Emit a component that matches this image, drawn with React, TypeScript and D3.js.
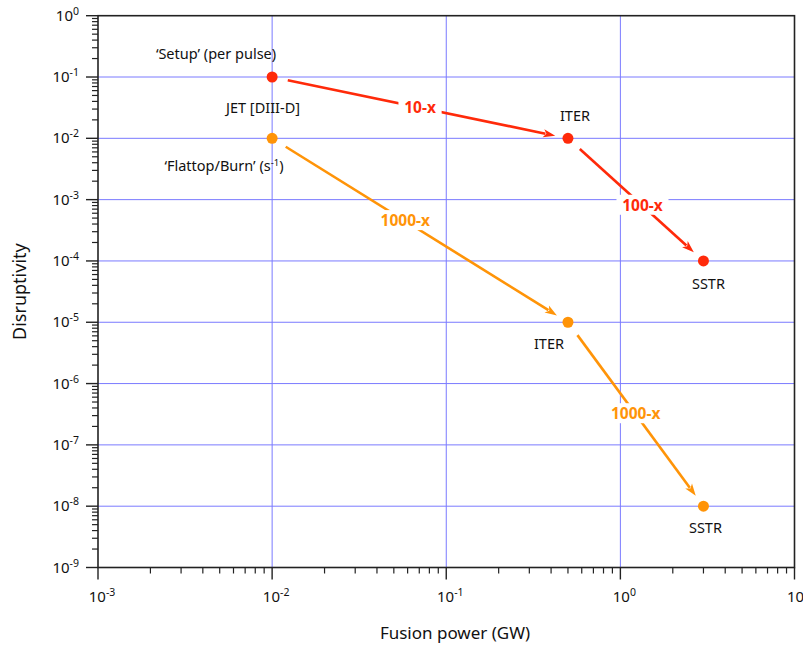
import React from "react";
import * as d3 from "d3";

const W = 803;
const H = 645;
const M = { left: 98, right: 794.5, top: 15.7, bottom: 567.5 };

const xDecades = [-3, -2, -1, 0, 1];
const yDecades = [0, -1, -2, -3, -4, -5, -6, -7, -8, -9];
const xGridDecades = [-2, -1, 0];
const yGridDecades = [-1, -2, -3, -4, -5, -6, -7, -8];

// series: Setup (per pulse) and Flattop/Burn (s^-1)
const setupPower = [0.01, 0.5, 3];
const setupDisr = [0.1, 0.01, 1e-4];
const burnPower = [0.01, 0.5, 3];
const burnDisr = [0.01, 1e-5, 1e-8];

const setupArrowLabels = ["10-x", "100-x"];
const setupArrowT = [0.5, 0.55];
const burnArrowLabels = ["1000-x", "1000-x"];
const burnArrowT = [0.45, 0.5];

const RED = "#ff2a0a";
const ORANGE = "#ff9408";
const GRID = "#7a7aff";
const FONT = "'Noto Sans', 'Open Sans', sans-serif";

const x = d3.scaleLog().domain([1e-3, 10]).range([M.left, M.right]);
const y = d3.scaleLog().domain([1, 1e-9]).range([M.top, M.bottom]);

function Arrow({ x1, y1, x2, y2, color, label, t }: any) {
  const dx = x2 - x1;
  const dy = y2 - y1;
  const len = Math.sqrt(dx * dx + dy * dy);
  const ux = dx / len;
  const uy = dy / len;
  const sx = x1 + ux * 16;
  const sy = y1 + uy * 16;
  const ex = x2 - ux * 13;
  const ey = y2 - uy * 13;
  const headL = 12;
  const headW = 4.2;
  const bx = ex - ux * headL;
  const by = ey - uy * headL;
  const px = -uy;
  const py = ux;
  const lx = x1 + dx * t;
  const ly = y1 + dy * t;
  const lw = label.length * 8.8 + 8;
  return (
    <g>
      <line x1={sx} y1={sy} x2={bx + ux * 2} y2={by + uy * 2} stroke={color} strokeWidth={2.6} />
      <path
        d={`M${ex},${ey} L${bx + px * headW},${by + py * headW} L${bx + ux * 3},${by + uy * 3} L${bx - px * headW},${by - py * headW} Z`}
        fill={color}
      />
      <rect x={lx - lw / 2} y={ly - 11} width={lw} height={20} fill="white" />
      <text x={lx} y={ly + 5} textAnchor="middle" fontFamily={FONT} fontWeight="bold" fontSize={15.5} fill={color}>
        {label}
      </text>
    </g>
  );
}

function Pow({ e, px, py, anchor }: any) {
  return (
    <text x={px} y={py} textAnchor={anchor} fontFamily={FONT} fontSize={15} fill="#111">
      10<tspan dy={-6} fontSize={10.5}>{e}</tspan>
    </text>
  );
}

export default function App() {
  const minorX: number[] = [];
  for (let d = -3; d < 1; d++) for (let k = 2; k <= 9; k++) minorX.push(k * Math.pow(10, d));
  const minorY: number[] = [];
  for (let d = -9; d < 0; d++) for (let k = 2; k <= 9; k++) minorY.push(k * Math.pow(10, d));

  const series = [
    { p: setupPower, v: setupDisr, c: RED, labels: setupArrowLabels, ts: setupArrowT },
    { p: burnPower, v: burnDisr, c: ORANGE, labels: burnArrowLabels, ts: burnArrowT },
  ];

  return (
    <svg width={W} height={H} style={{ position: "absolute", left: 0, top: 0, background: "white" }}>
      {/* grid */}
      {xGridDecades.map((d) => (
        <line key={"gx" + d} x1={x(Math.pow(10, d))} x2={x(Math.pow(10, d))} y1={M.top} y2={M.bottom} stroke={GRID} strokeWidth={1} />
      ))}
      {yGridDecades.map((d) => (
        <line key={"gy" + d} x1={M.left} x2={M.right} y1={y(Math.pow(10, d))} y2={y(Math.pow(10, d))} stroke={GRID} strokeWidth={1} />
      ))}
      {/* frame */}
      <rect x={M.left} y={M.top} width={M.right - M.left} height={M.bottom - M.top} fill="none" stroke="#222" strokeWidth={1.6} />
      {/* x ticks */}
      {xDecades.map((d) => (
        <line key={"tx" + d} x1={x(Math.pow(10, d))} x2={x(Math.pow(10, d))} y1={M.bottom} y2={M.bottom + 12} stroke="#222" strokeWidth={1.4} />
      ))}
      {minorX.map((v, i) => (
        <line key={"mx" + i} x1={x(v)} x2={x(v)} y1={M.bottom} y2={M.bottom + 6} stroke="#222" strokeWidth={1.2} />
      ))}
      {/* y ticks */}
      {yDecades.map((d) => (
        <line key={"ty" + d} x1={M.left - 12} x2={M.left} y1={y(Math.pow(10, d))} y2={y(Math.pow(10, d))} stroke="#222" strokeWidth={1.4} />
      ))}
      {minorY.map((v, i) => (
        <line key={"my" + i} x1={M.left - 6} x2={M.left} y1={y(v)} y2={y(v)} stroke="#222" strokeWidth={1.2} />
      ))}
      {/* tick labels */}
      {xDecades.map((d) => (
        <Pow key={"lx" + d} e={String(d)} px={x(Math.pow(10, d)) + 4} py={M.bottom + 34} anchor="middle" />
      ))}
      {yDecades.map((d) => (
        <Pow key={"ly" + d} e={String(d)} px={79} py={y(Math.pow(10, d)) + 5} anchor="end" />
      ))}
      {/* axis titles */}
      <text x={455} y={639} textAnchor="middle" fontFamily={FONT} fontSize={17} fill="#111">
        Fusion power (GW)
      </text>
      <text transform={`translate(26,${(M.top + M.bottom) / 2}) rotate(-90)`} textAnchor="middle" fontFamily={FONT} fontSize={18} fill="#111">
        Disruptivity
      </text>
      {/* arrows */}
      {series.map((s, si) =>
        s.labels.map((lab, i) => (
          <Arrow
            key={"a" + si + i}
            x1={x(s.p[i])}
            y1={y(s.v[i])}
            x2={x(s.p[i + 1])}
            y2={y(s.v[i + 1])}
            color={s.c}
            label={lab}
            t={s.ts[i]}
          />
        ))
      )}
      {/* points */}
      {series.map((s, si) =>
        s.p.map((p, i) => <circle key={"c" + si + i} cx={x(p)} cy={y(s.v[i])} r={5.5} fill={s.c} />)
      )}
      {/* annotations */}
      <g fontFamily={FONT} fontSize={14.5} fill="#111">
        <text x={216} y={59} textAnchor="middle">‘Setup’ (per pulse)</text>
        <text x={300} y={113} textAnchor="end">JET [DIII-D]</text>
        <text x={224} y={171} textAnchor="middle">
          ‘Flattop/Burn’ (s<tspan dy={-5} fontSize={9.5}>-1</tspan><tspan dy={5}>)</tspan>
        </text>
        <text x={x(setupPower[1]) + 7} y={y(setupDisr[1]) - 17} textAnchor="middle">ITER</text>
        <text x={x(setupPower[2]) + 5} y={y(setupDisr[2]) + 28} textAnchor="middle">SSTR</text>
        <text x={x(burnPower[1]) - 19} y={y(burnDisr[1]) + 27} textAnchor="middle">ITER</text>
        <text x={x(burnPower[2]) + 2} y={y(burnDisr[2]) + 27} textAnchor="middle">SSTR</text>
      </g>
    </svg>
  );
}
